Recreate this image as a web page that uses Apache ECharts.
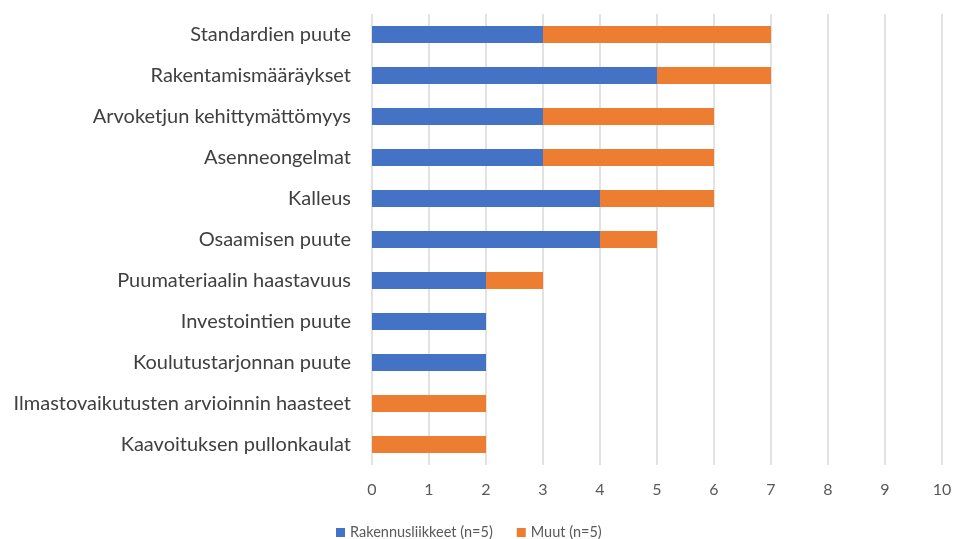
<!DOCTYPE html>
<html><head><meta charset="utf-8">
<script src="https://cdn.jsdelivr.net/npm/echarts@6/dist/echarts.min.js"></script>
<style>html,body{margin:0;padding:0;background:#fff}#c{width:961px;height:539px}</style>
</head><body><div id="c"></div>
<script>
const categories = ["Standardien puute","Rakentamismääräykset","Arvoketjun kehittymättömyys","Asenneongelmat","Kalleus","Osaamisen puute","Puumateriaalin haastavuus","Investointien puute","Koulutustarjonnan puute","Ilmastovaikutusten arvioinnin haasteet","Kaavoituksen pullonkaulat"];
const rakennusliikkeet = [3,5,3,3,4,4,2,2,2,0,0];
const muut = [4,2,3,3,2,1,1,0,0,2,2];
const seriesNames = ["Rakennusliikkeet (n=5)","Muut (n=5)"];
const font = "Lato, 'Open Sans', sans-serif";
const chart = echarts.init(document.getElementById('c'));
chart.setOption({
  animation:false,
  textStyle:{fontFamily:font},
  grid:{left:372,right:19,top:14,bottom:74,containLabel:false},
  legend:{top:520,left:331,itemWidth:9,itemHeight:9,itemGap:24,icon:'rect',
    textStyle:{fontSize:14.5,color:'#595959',fontFamily:font},data:seriesNames},
  xAxis:{type:'value',min:0,max:10,interval:1,
    axisLine:{show:false},axisTick:{show:false},
    axisLabel:{fontSize:16,color:'#595959',margin:17,fontFamily:font},
    splitLine:{lineStyle:{color:'#D9D9D9',width:1.5}}},
  yAxis:{type:'category',inverse:true,data:categories,
    axisLine:{show:false},axisTick:{show:false},
    axisLabel:{fontSize:20,color:'#404040',margin:21,fontFamily:font}},
  series:[
    {name:seriesNames[0],type:'bar',stack:'t',data:rakennusliikkeet,barWidth:17,itemStyle:{color:'#4472C4'}},
    {name:seriesNames[1],type:'bar',stack:'t',data:muut,barWidth:17,itemStyle:{color:'#ED7D31'}}
  ]
});
</script></body></html>
